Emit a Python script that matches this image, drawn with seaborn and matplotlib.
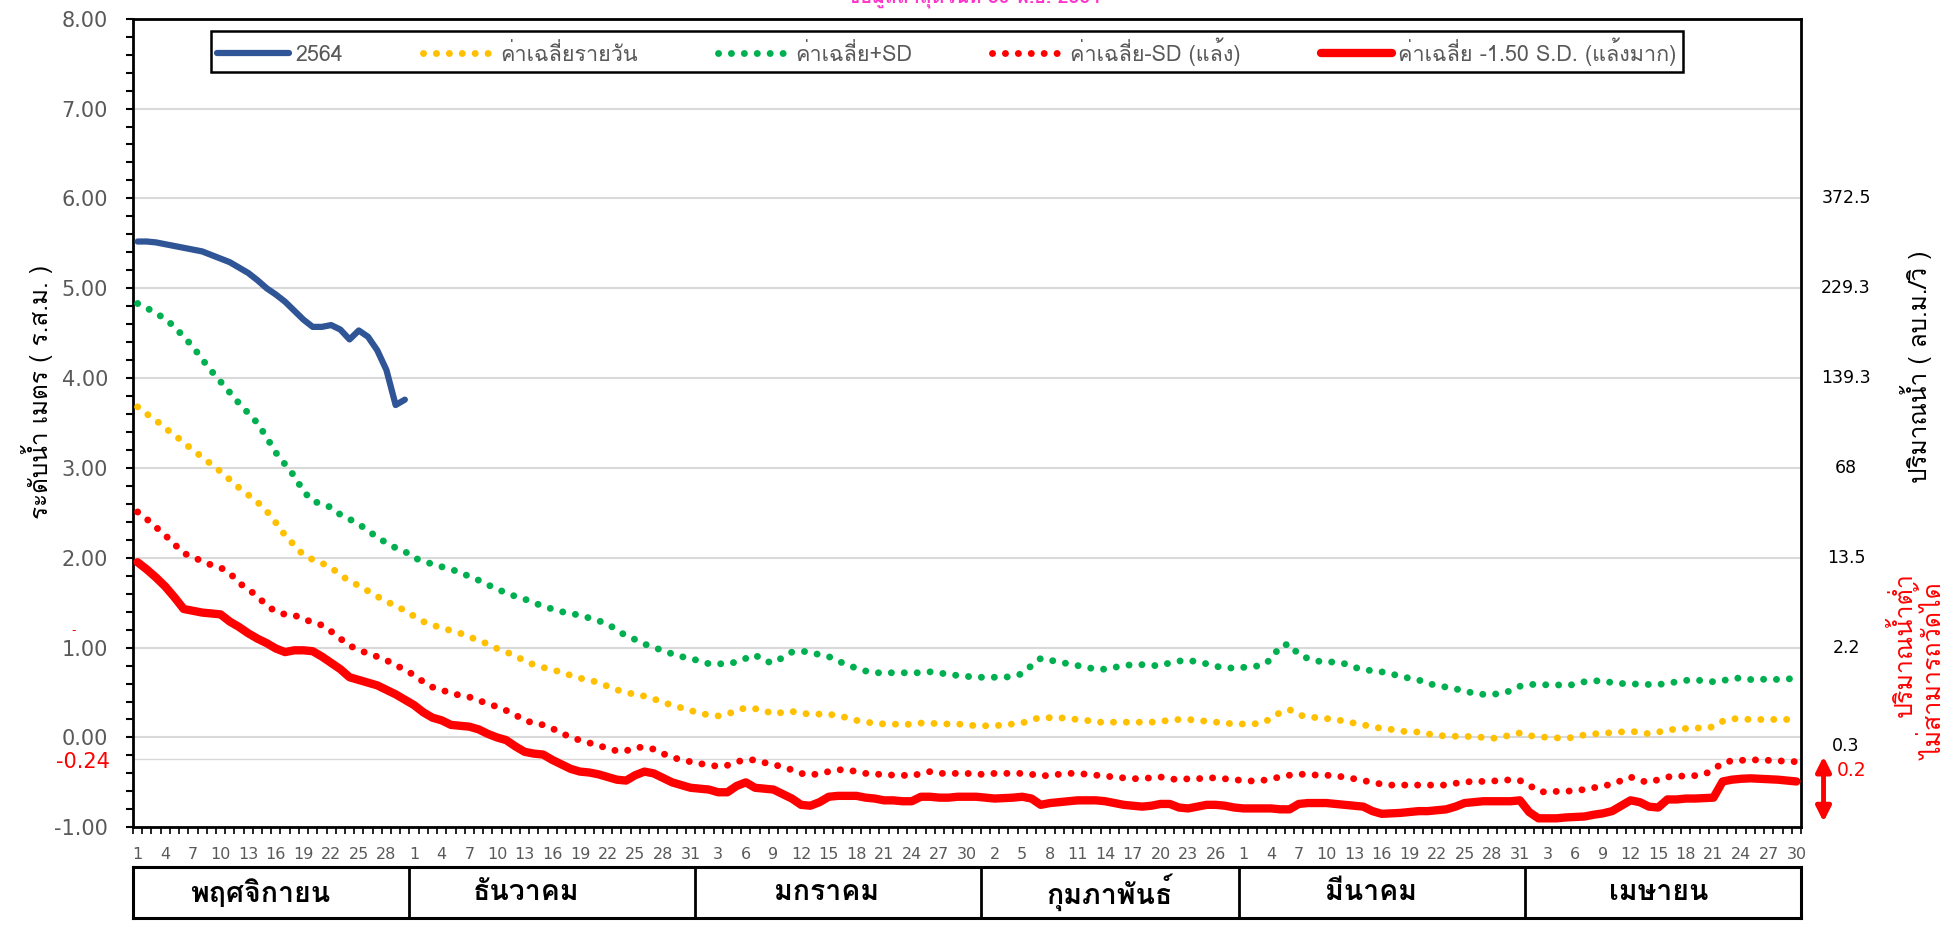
import numpy as np
import pandas as pd
import matplotlib
matplotlib.use("Agg")
import matplotlib.pyplot as plt
import seaborn as sns
from matplotlib import font_manager
from matplotlib.lines import Line2D
from matplotlib.ticker import MultipleLocator, FixedLocator
from fontTools.ttLib import TTFont

# months on the category axis (Nov 2564 - Apr 2565)
month_names = ['พฤศจิกายน', 'ธันวาคม', 'มกราคม', 'กุมภาพันธ์', 'มีนาคม', 'เมษายน']
month_days = [30, 31, 31, 28, 31, 30]

# water level 2564, only November so far
level_2564 = [5.52, 5.52, 5.51, 5.49, 5.47, 5.45, 5.43, 5.41, 5.37, 5.33,
              5.29, 5.23, 5.17, 5.09, 5.00, 4.93, 4.85, 4.75, 4.65, 4.57,
              4.57, 4.59, 4.54, 4.43, 4.53, 4.46, 4.31, 4.09, 3.70, 3.76]

avg_daily = [3.68, 3.60, 3.53, 3.44, 3.37, 3.28, 3.20, 3.12, 3.04, 2.96, 2.87, 2.78, 2.70, 2.62, 2.52, 2.39, 2.25, 2.14, 2.03,
             1.98, 1.94, 1.89, 1.81, 1.74, 1.69, 1.63, 1.57, 1.51, 1.47, 1.41, 1.35, 1.29, 1.25, 1.22, 1.19, 1.16, 1.12,
             1.08, 1.04, 0.99, 0.95, 0.91, 0.85, 0.81, 0.78, 0.75,
             0.73, 0.69, 0.66, 0.64, 0.61, 0.57, 0.53, 0.50, 0.48, 0.46, 0.43, 0.39, 0.36, 0.33, 0.30, 0.27, 0.25, 0.24,
             0.26, 0.30, 0.33, 0.32, 0.30, 0.26, 0.28, 0.29, 0.27, 0.26, 0.26, 0.26, 0.24, 0.22, 0.19, 0.17, 0.16, 0.15,
             0.15, 0.14, 0.15, 0.16, 0.16, 0.15, 0.15, 0.15, 0.14, 0.13, 0.13, 0.13,
             0.14, 0.15, 0.16, 0.20, 0.22, 0.22, 0.22, 0.21, 0.20, 0.19, 0.17, 0.17, 0.17, 0.17, 0.17, 0.17, 0.17, 0.18,
             0.19, 0.20, 0.20, 0.19, 0.18, 0.17, 0.16, 0.15, 0.15, 0.15, 0.16, 0.21, 0.28, 0.31, 0.25, 0.23, 0.22, 0.21,
             0.20, 0.18, 0.16, 0.14, 0.12, 0.10, 0.09, 0.07, 0.065, 0.06,
             0.04, 0.025, 0.015, 0.013, 0.01, 0.01, 0.00, -0.01, 0.00, 0.03, 0.05, 0.02, 0.01, 0.00, -0.005, -0.005,
             0.00, 0.03, 0.04, 0.045, 0.055, 0.062, 0.067, 0.06, 0.04, 0.06, 0.08, 0.095, 0.10, 0.108, 0.10, 0.12,
             0.18, 0.21, 0.205, 0.20, 0.20, 0.20, 0.20, 0.20, 0.20]

avg_plus_sd = [4.83, 4.78, 4.72, 4.66, 4.57, 4.46, 4.35, 4.21, 4.08, 3.96, 3.84, 3.72, 3.61, 3.50, 3.34, 3.17, 3.04,
               2.91, 2.74, 2.63, 2.60, 2.56, 2.48, 2.43, 2.37, 2.31, 2.22, 2.17, 2.11, 2.07, 2.00,
               1.96, 1.93, 1.90, 1.87, 1.84, 1.79, 1.75, 1.70, 1.65, 1.61, 1.57, 1.54, 1.50, 1.46, 1.43,
               1.40, 1.38, 1.36, 1.33, 1.30, 1.26, 1.20, 1.13, 1.09, 1.04, 1.00, 0.97, 0.93, 0.90, 0.88, 0.85,
               0.82, 0.82, 0.82, 0.84, 0.88, 0.92, 0.85, 0.83, 0.89, 0.95, 0.96, 0.95, 0.92, 0.90, 0.85, 0.81,
               0.77, 0.74, 0.72, 0.72, 0.72, 0.72, 0.72, 0.72, 0.73, 0.72, 0.70, 0.69, 0.68, 0.67, 0.67, 0.67,
               0.67, 0.68, 0.71, 0.80, 0.88, 0.86, 0.84, 0.82, 0.80, 0.78, 0.76, 0.76, 0.78, 0.80, 0.81, 0.81,
               0.80, 0.80, 0.83, 0.85, 0.86, 0.84, 0.82, 0.79, 0.78, 0.77, 0.78, 0.79, 0.80, 0.87, 1.02, 1.04,
               0.92, 0.88, 0.85, 0.84, 0.84, 0.82, 0.78, 0.76, 0.74, 0.73, 0.71, 0.68, 0.66, 0.64,
               0.60, 0.58, 0.56, 0.54, 0.52, 0.49, 0.48, 0.48, 0.49, 0.52, 0.57, 0.59, 0.59, 0.585, 0.585, 0.58,
               0.59, 0.62, 0.63, 0.63, 0.61, 0.60, 0.60, 0.59, 0.59, 0.59, 0.60, 0.62, 0.635, 0.64, 0.63, 0.62,
               0.63, 0.66, 0.66, 0.645, 0.645, 0.65, 0.645, 0.65, 0.66]

avg_minus_sd = [2.51, 2.43, 2.34, 2.25, 2.15, 2.05, 2.01, 1.96, 1.92, 1.89, 1.83, 1.72, 1.65, 1.57, 1.47, 1.40,
                1.37, 1.36, 1.32, 1.28, 1.25, 1.18, 1.10, 1.02, 0.98, 0.93, 0.90, 0.86, 0.80, 0.76, 0.69, 0.62,
                0.56, 0.53, 0.49, 0.47, 0.45, 0.41, 0.38, 0.34, 0.30, 0.25, 0.19, 0.16, 0.14, 0.10,
                0.05, 0.00, -0.03, -0.06, -0.09, -0.12, -0.15, -0.15, -0.11, -0.11, -0.13, -0.18, -0.22, -0.25,
                -0.27, -0.29, -0.31, -0.32, -0.31, -0.27, -0.25, -0.25, -0.28, -0.30, -0.33, -0.36, -0.40, -0.42,
                -0.40, -0.38, -0.36, -0.36, -0.38, -0.40, -0.41, -0.41, -0.42, -0.42, -0.43, -0.40, -0.38, -0.40,
                -0.40, -0.40, -0.40, -0.41, -0.41, -0.40,
                -0.40, -0.40, -0.40, -0.41, -0.43, -0.42, -0.41, -0.40, -0.40, -0.41, -0.42, -0.43, -0.44, -0.45,
                -0.46, -0.455, -0.45, -0.44, -0.46, -0.47, -0.46, -0.46, -0.45, -0.45, -0.46, -0.47, -0.48, -0.485,
                -0.48, -0.46, -0.44, -0.42, -0.41, -0.41, -0.42, -0.42, -0.43, -0.44, -0.46, -0.48, -0.50, -0.52,
                -0.53, -0.53, -0.53, -0.53,
                -0.53, -0.53, -0.53, -0.51, -0.50, -0.485, -0.49, -0.485, -0.48, -0.47, -0.48, -0.53, -0.60, -0.61,
                -0.60, -0.60, -0.59, -0.58, -0.56, -0.54, -0.52, -0.48, -0.44, -0.48, -0.50, -0.47, -0.44, -0.43,
                -0.43, -0.425, -0.41, -0.36, -0.28, -0.26, -0.255, -0.25, -0.25, -0.255, -0.26, -0.265, -0.27]

avg_minus_15sd = [1.95, 1.87, 1.78, 1.68, 1.56, 1.43, 1.41, 1.39, 1.38, 1.37, 1.29, 1.23, 1.16, 1.10, 1.05, 0.99,
                  0.95, 0.97, 0.97, 0.96, 0.90, 0.83, 0.76, 0.67, 0.64, 0.61, 0.58, 0.53, 0.48, 0.42, 0.36, 0.28,
                  0.22, 0.19, 0.14, 0.13, 0.12, 0.09, 0.04, 0.00, -0.03, -0.10, -0.16, -0.18, -0.19, -0.25,
                  -0.30, -0.35, -0.38, -0.39, -0.41, -0.44, -0.47, -0.48, -0.42, -0.38, -0.40, -0.45, -0.50, -0.53,
                  -0.56, -0.57, -0.58, -0.61, -0.61, -0.54, -0.50, -0.56, -0.57, -0.58, -0.63, -0.68, -0.75, -0.76,
                  -0.72, -0.66, -0.65, -0.65, -0.65, -0.67, -0.68, -0.70, -0.70, -0.71, -0.71, -0.66, -0.66, -0.67,
                  -0.67, -0.66, -0.66, -0.66, -0.67, -0.68,
                  -0.675, -0.67, -0.66, -0.68, -0.75, -0.73, -0.72, -0.71, -0.70, -0.70, -0.70, -0.71, -0.73, -0.75,
                  -0.76, -0.77, -0.76, -0.74, -0.74, -0.78, -0.79, -0.77, -0.75, -0.75, -0.76, -0.78, -0.79, -0.79,
                  -0.79, -0.79, -0.80, -0.80, -0.74, -0.73, -0.73, -0.73, -0.74, -0.75, -0.76, -0.77, -0.82, -0.85,
                  -0.845, -0.84, -0.83, -0.82,
                  -0.82, -0.81, -0.80, -0.77, -0.73, -0.72, -0.71, -0.71, -0.71, -0.71, -0.70, -0.83, -0.90, -0.90,
                  -0.90, -0.89, -0.885, -0.88, -0.86, -0.845, -0.82, -0.76, -0.70, -0.72, -0.77, -0.78, -0.69, -0.69,
                  -0.68, -0.68, -0.675, -0.67, -0.49, -0.47, -0.46, -0.455, -0.46, -0.465, -0.47, -0.48, -0.49]

series_labels = ['2564', 'ค่าเฉลี่ยรายวัน', 'ค่าเฉลี่ย+SD', 'ค่าเฉลี่ย-SD (แล้ง)', 'ค่าเฉลี่ย -1.50 S.D. (แล้งมาก)']

# right hand flow scale (m3/s) matched to the water level grid
flow_labels = ['372.5', '229.3', '139.3', '68', '13.5', '2.2', '0.3']
flow_levels = [6, 5, 4, 3, 2, 1, -0.1]
low_level = -0.24
low_flow = '0.2'

title = 'ข้อมูลล่าสุดวันที่ 30 พ.ย. 2564'


def find_font(codepoints):
    for f in font_manager.fontManager.ttflist:
        try:
            tt = TTFont(f.fname, fontNumber=0, lazy=True)
            cmap = tt.getBestCmap()
        except Exception:
            continue
        if cmap and all(c in cmap for c in codepoints):
            return f.name
    return None


sns.set_theme(style='white')
thai_font = find_font([0x0E04, 0x0E48, 0x0E33])
installed = {f.name for f in font_manager.fontManager.ttflist}
families = ([thai_font] if thai_font else []) + ['DejaVu Sans']
plt.rcParams['font.family'] = families
narrow = ['Liberation Sans Narrow'] if 'Liberation Sans Narrow' in installed else ['DejaVu Sans']

day_of_month = np.concatenate([np.arange(1, n + 1) for n in month_days])
n_days = len(day_of_month)
idx = np.arange(n_days)
df = pd.DataFrame({'i': idx, 'avg': avg_daily, 'plus': avg_plus_sd,
                   'minus': avg_minus_sd, 'minus15': avg_minus_15sd})

fig = plt.figure(figsize=(19.51, 9.25), dpi=100)
ax = fig.add_axes([0.06817, 0.10562, 0.85495, 0.87416])

dot = (0, (0.01, 1.85))
sns.lineplot(x=df['i'], y=df['minus15'], ax=ax, color='#FF0000', linewidth=6,
             solid_capstyle='round', label=series_labels[4], zorder=3)
sns.lineplot(x=df['i'], y=df['minus'], ax=ax, color='#FF0000', linewidth=5, linestyle=dot,
             dash_capstyle='round', label=series_labels[3], zorder=4)
sns.lineplot(x=df['i'], y=df['plus'], ax=ax, color='#00B050', linewidth=5, linestyle=dot,
             dash_capstyle='round', label=series_labels[2], zorder=4)
sns.lineplot(x=df['i'], y=df['avg'], ax=ax, color='#FFC000', linewidth=5, linestyle=dot,
             dash_capstyle='round', label=series_labels[1], zorder=4)
sns.lineplot(x=idx[:len(level_2564)], y=level_2564, ax=ax, color='#2F5597', linewidth=4.5,
             solid_capstyle='round', label=series_labels[0], zorder=5)

ax.set_xlim(-0.5, n_days - 0.5)
ax.set_ylim(-1, 8)
ax.set_xlabel('')
ax.set_ylabel('')
ax.yaxis.set_major_locator(MultipleLocator(1))
ax.yaxis.set_minor_locator(MultipleLocator(0.2))
ax.yaxis.set_major_formatter(matplotlib.ticker.FormatStrFormatter('%.2f'))
ax.grid(False)
ax.yaxis.grid(True, which='major', color='#D9D9D9', linewidth=1.5, zorder=0)
ax.axhline(low_level, color='#D9D9D9', linewidth=1, zorder=1)
ax.tick_params(axis='y', which='both', direction='out', length=5, width=1.5, color='black',
               labelsize=15, labelcolor='#595959', pad=13, left=True)
for lab in ax.get_yticklabels():
    lab.set_family('DejaVu Sans')

ax.xaxis.set_major_locator(FixedLocator(idx[::3]))
ax.set_xticklabels([str(d) for d in day_of_month[::3]])
ax.xaxis.set_minor_locator(FixedLocator(np.arange(-0.5, n_days, 1)))
ax.tick_params(axis='x', which='major', length=0, labelsize=11.5, labelcolor='#595959', pad=14)
ax.tick_params(axis='x', which='minor', direction='out', length=5, width=1.2, color='black', bottom=True)
for lab in ax.get_xticklabels():
    lab.set_family(narrow)
for s in ax.spines.values():
    s.set_color('black')
    s.set_linewidth(2)

# extra red marks on the left axis
ax.text(-0.014, low_level - 0.03, f'{low_level:.2f}', transform=ax.get_yaxis_transform(),
        ha='right', va='center', color='#FF0000', fontsize=15, family='DejaVu Sans')
ax.text(-0.034, 1.19, '-', transform=ax.get_yaxis_transform(),
        ha='right', va='center', color='#FF0000', fontsize=9, family='DejaVu Sans')

# flow scale on the right
for lab, lev in zip(flow_labels, flow_levels):
    ax.text(1.027, lev, lab, transform=ax.get_yaxis_transform(), ha='center', va='center',
            color='black', fontsize=12.5, family='DejaVu Sans')
ax.annotate('', xy=(1.0135, -0.97), xytext=(1.0135, -0.18), xycoords=ax.get_yaxis_transform(),
            arrowprops=dict(arrowstyle='<|-|>', color='#FF0000', lw=3.5, mutation_scale=22),
            annotation_clip=False)
ax.text(1.0305, -0.37, low_flow, transform=ax.get_yaxis_transform(), ha='center', va='center',
        color='#FF0000', fontsize=13.5, family='DejaVu Sans')

# axis titles
fig.text(37 / 1951, 1 - 392 / 925, 'ระดับน้ำ เมตร ( ร.ส.ม. )', rotation=90, ha='center', va='center',
         fontsize=17.5, color='black')
fig.text(1916 / 1951, 1 - 367 / 925, 'ปริมาณน้ำ ( ลบ.ม./วิ )', rotation=90, ha='center', va='center',
         fontsize=17.5, color='black')
fig.text(1903 / 1951, 1 - 645 / 925, 'ปริมาณน้ำต่ำ', rotation=90, ha='center', va='center',
         fontsize=18, color='#FF0000')
fig.text(1934 / 1951, 1 - 672 / 925, 'ไม่สามารถวัดได้', rotation=90, ha='center', va='center',
         fontsize=18, color='#FF0000')
fig.text(974 / 1951, 1 - 3 / 925, title, ha='center', va='baseline', fontsize=14,
         fontweight='bold', color='#FF33CC')

# legend
handles = [
    Line2D([], [], color='#2F5597', lw=4.5, solid_capstyle='round'),
    Line2D([], [], color='#FFC000', lw=5, linestyle=dot, dash_capstyle='round'),
    Line2D([], [], color='#00B050', lw=5, linestyle=dot, dash_capstyle='round'),
    Line2D([], [], color='#FF0000', lw=5, linestyle=dot, dash_capstyle='round'),
    Line2D([], [], color='#FF0000', lw=6, solid_capstyle='round'),
]
leg = ax.legend(handles, series_labels, ncol=5, loc='upper left',
                bbox_to_anchor=((211 - 133) / 1668, 0.985, 1472 / 1668, 0), mode='expand',
                borderaxespad=0, frameon=True, fancybox=False, framealpha=1, edgecolor='black',
                fontsize=15.5, handlelength=3.3, handletextpad=0.3, columnspacing=2.0, borderpad=0.3)
leg.get_frame().set_linewidth(1.8)
for t in leg.get_texts():
    t.set_color('#595959')

# month table under the axis
tab = fig.add_axes([0.06817, 0.00757, 0.85495, 0.05514])
tab.set_xlim(-0.5, n_days - 0.5)
tab.set_ylim(0, 1)
tab.set_xticks([])
tab.set_yticks([])
for s in tab.spines.values():
    s.set_color('black')
    s.set_linewidth(2.2)
edges = np.cumsum([0] + month_days) - 0.5
for e in edges[1:-1]:
    tab.axvline(e, color='black', linewidth=2)
# the month names sit a little left of the cell centres in the original
name_shift = [-1.2, -2.8, -1.3, 0.0, -1.2, -0.4]
for name, a, b, sh in zip(month_names, edges[:-1], edges[1:], name_shift):
    tab.text((a + b) / 2 + sh, 0.5, name, ha='center', va='center', fontsize=20.5, fontweight='bold',
             color='black')

fig.savefig('out.png', dpi=100)
